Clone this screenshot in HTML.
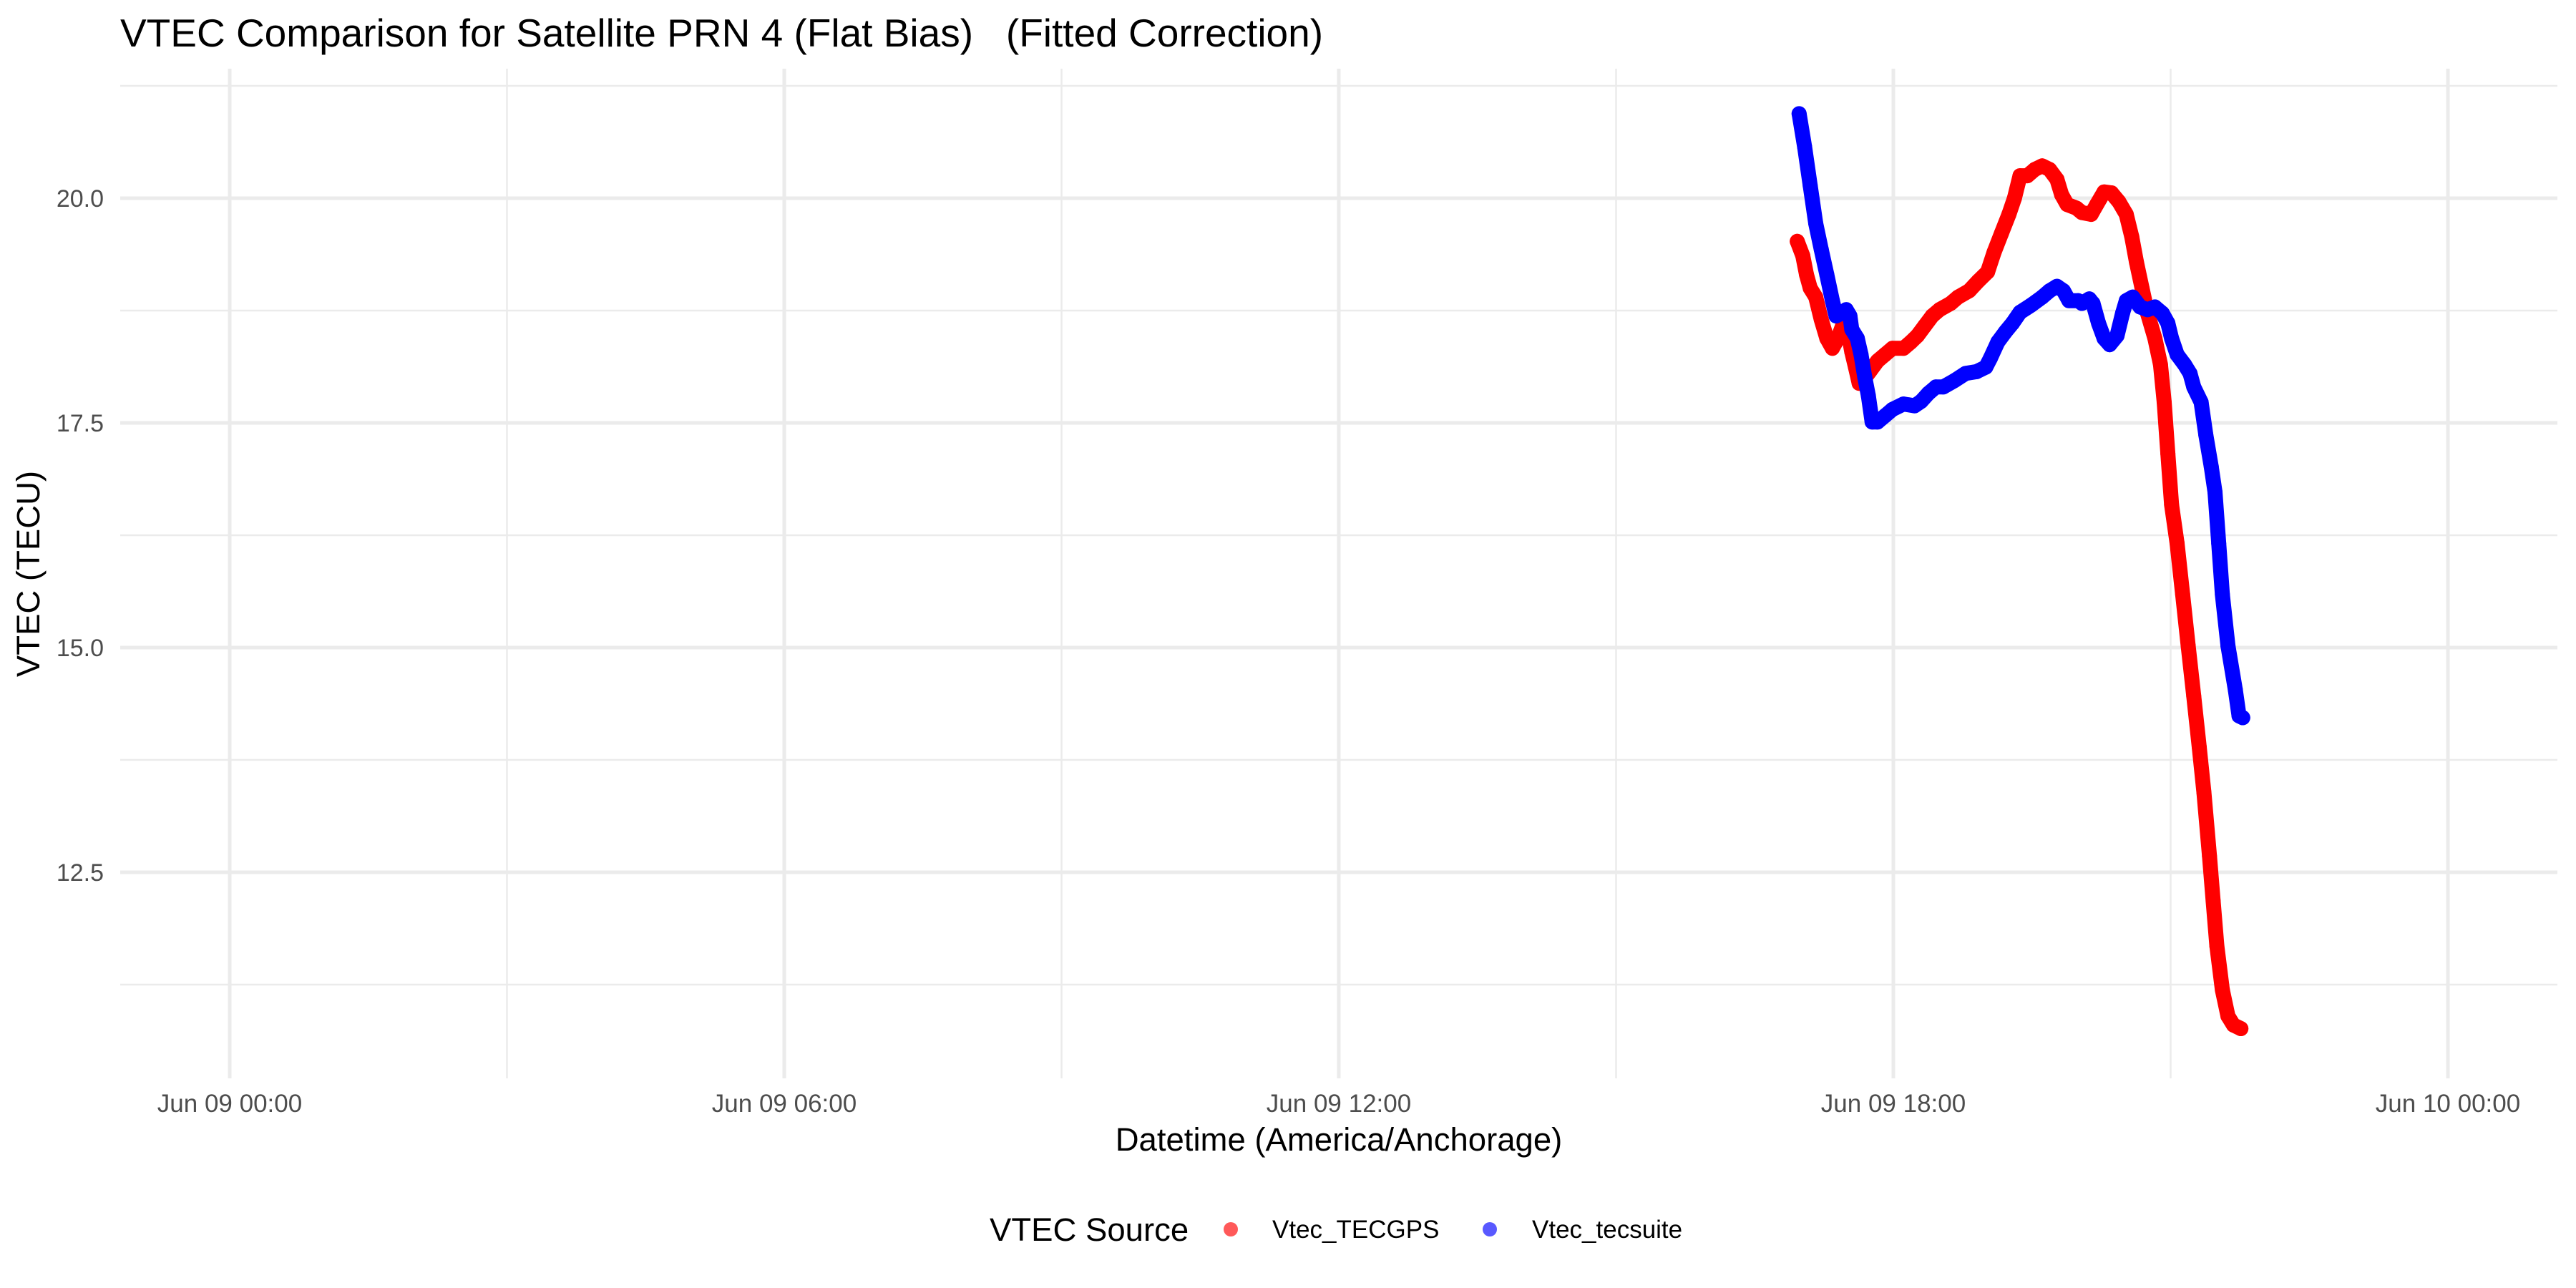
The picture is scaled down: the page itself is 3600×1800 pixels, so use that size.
<!DOCTYPE html>
<html><head><meta charset="utf-8"><style>
html,body{margin:0;padding:0;background:#fff}
svg{display:block}
text{font-family:"Liberation Sans",Arial,sans-serif}
</style></head><body>
<svg id="chart" width="3600" height="1800" viewBox="0 0 3600 1800" xmlns="http://www.w3.org/2000/svg">
<rect x="0" y="0" width="3600" height="1800" fill="#fff"/>
<text x="168" y="65" font-size="55" fill="#000" style="white-space:pre">VTEC Comparison for Satellite PRN 4 (Flat Bias) &#160; (Fitted Correction)</text>
<g id="grid"></g>
<g id="series"></g>
<g id="axes"></g>
<text x="1871" y="1608" font-size="45.5" text-anchor="middle" fill="#000">Datetime (America/Anchorage)</text>
<text transform="translate(55,802) rotate(-90)" font-size="45.5" text-anchor="middle" fill="#000">VTEC (TECU)</text>
<g>
<text x="1383" y="1734" font-size="45.5" fill="#000">VTEC Source</text>
<g>
<circle cx="1720" cy="1718" r="10" fill="#ff0000" fill-opacity="0.65"/>
<text x="1778" y="1730" font-size="35" fill="#000">Vtec_TECGPS</text>
</g>
<g>
<circle cx="2082" cy="1718" r="10" fill="#0000ff" fill-opacity="0.65"/>
<text x="2141" y="1730" font-size="35" fill="#000">Vtec_tecsuite</text>
</g>
</g>
</svg>
<script>
// Data (hours since Jun 09 00:00, VTEC in TECU)
const xMajorTicks = [0, 6, 12, 18, 24];
const xMajorLabels = ["Jun 09 00:00", "Jun 09 06:00", "Jun 09 12:00", "Jun 09 18:00", "Jun 10 00:00"];
const xMinorTicks = [3, 9, 15, 21];
const yMajorTicks = [12.5, 15, 17.5, 20];
const yMajorLabels = ["12.5", "15.0", "17.5", "20.0"];
const yMinorTicks = [11.25, 13.75, 16.25, 18.75, 21.25];

const tecsuiteHours = [16.98,17.04,17.10,17.16,17.22,17.28,17.34,17.38,17.44,17.49,17.53,17.55,17.61,17.65,17.69,17.73,17.77,17.83,17.91,17.99,18.11,18.23,18.30,18.38,18.46,18.54,18.66,18.78,18.90,19.00,19.05,19.13,19.21,19.29,19.37,19.49,19.61,19.69,19.77,19.84,19.90,20.00,20.04,20.12,20.16,20.22,20.28,20.34,20.42,20.48,20.52,20.59,20.67,20.75,20.83,20.91,20.97,21.01,21.07,21.15,21.21,21.25,21.33,21.38,21.44,21.48,21.52,21.56,21.62,21.70,21.74,21.78];
const tecsuiteValues = [20.94,20.57,20.14,19.72,19.43,19.15,18.86,18.69,18.72,18.76,18.69,18.54,18.44,18.26,18.01,17.80,17.51,17.51,17.58,17.65,17.71,17.69,17.74,17.83,17.90,17.90,17.97,18.05,18.07,18.12,18.22,18.40,18.51,18.61,18.73,18.81,18.90,18.97,19.02,18.97,18.86,18.86,18.83,18.88,18.83,18.61,18.44,18.37,18.47,18.72,18.86,18.90,18.79,18.76,18.79,18.72,18.61,18.44,18.26,18.15,18.05,17.90,17.73,17.37,17.01,16.73,16.16,15.59,15.02,14.53,14.24,14.22];

const tecgpsHours = [16.96,17.02,17.06,17.10,17.16,17.22,17.28,17.34,17.40,17.45,17.51,17.55,17.59,17.63,17.67,17.75,17.83,17.91,17.99,18.11,18.19,18.26,18.34,18.42,18.50,18.62,18.70,18.82,18.92,19.02,19.09,19.17,19.25,19.31,19.37,19.45,19.53,19.61,19.69,19.77,19.82,19.88,19.98,20.04,20.14,20.20,20.28,20.36,20.44,20.52,20.58,20.63,20.69,20.75,20.83,20.89,20.93,20.97,21.01,21.07,21.13,21.19,21.25,21.31,21.36,21.42,21.46,21.50,21.56,21.62,21.68,21.76];
const tecgpsValues = [19.52,19.36,19.15,19.00,18.90,18.65,18.44,18.33,18.44,18.58,18.51,18.29,18.12,17.94,17.97,18.08,18.19,18.26,18.33,18.33,18.40,18.47,18.58,18.69,18.76,18.83,18.90,18.97,19.08,19.18,19.40,19.61,19.82,20.00,20.25,20.25,20.32,20.36,20.32,20.21,20.04,19.93,19.89,19.84,19.82,19.93,20.07,20.06,19.96,19.82,19.57,19.29,19.00,18.72,18.44,18.15,17.73,17.16,16.59,16.16,15.59,15.02,14.46,13.89,13.39,12.68,12.18,11.68,11.19,10.90,10.80,10.76];

const NS = "http://www.w3.org/2000/svg";
const panel = {left: 168, right: 3574, top: 96, bottom: 1507};
function xScale(h) { return 321 + h * (3100 / 24); }
function yScale(v) { return 277 + (20 - v) * (942 / 7.5); }
function mk(tag, attrs, parent) {
  const el = document.createElementNS(NS, tag);
  for (const k in attrs) el.setAttribute(k, attrs[k]);
  parent.appendChild(el);
  return el;
}
const grid = document.getElementById('grid');
const axes = document.getElementById('axes');
const series = document.getElementById('series');

yMinorTicks.forEach(v => {
  const l = mk('line', {x1: panel.left, x2: panel.right, y1: yScale(v), y2: yScale(v), stroke: '#ebebeb', 'stroke-width': 2.5}, grid);
  
  
});
xMinorTicks.forEach(h => {
  const l = mk('line', {x1: xScale(h), x2: xScale(h), y1: panel.top, y2: panel.bottom, stroke: '#ebebeb', 'stroke-width': 2.5}, grid);
  
  
});
yMajorTicks.forEach((v, i) => {
  const l = mk('line', {x1: panel.left, x2: panel.right, y1: yScale(v), y2: yScale(v), stroke: '#ebebeb', 'stroke-width': 5}, grid);
  
  
  const t = mk('text', {x: 145, y: yScale(v) + 12, 'font-size': 34, fill: '#4d4d4d', 'text-anchor': 'end'}, axes);
  t.textContent = yMajorLabels[i];
  
  
});
xMajorTicks.forEach((h, i) => {
  const l = mk('line', {x1: xScale(h), x2: xScale(h), y1: panel.top, y2: panel.bottom, stroke: '#ebebeb', 'stroke-width': 5}, grid);
  
  
  const t = mk('text', {x: xScale(h), y: 1554, 'font-size': 35, fill: '#4d4d4d', 'text-anchor': 'middle'}, axes);
  t.textContent = xMajorLabels[i];
  
  
});

function drawSeries(hours, vals, color, name) {
  const g = mk('g', {}, series);
  
  
  let d = '';
  hours.forEach((h, i) => { d += (i ? 'L' : 'M') + xScale(h).toFixed(1) + ' ' + yScale(vals[i]).toFixed(1); });
  const p = mk('path', {d: d, fill: 'none', stroke: color, 'stroke-width': 21, 'stroke-linecap': 'round', 'stroke-linejoin': 'round'}, g);
  
  
  hours.forEach((h, i) => {
    const c = mk('circle', {cx: xScale(h), cy: yScale(vals[i]), r: 10.5, fill: color}, g);
    
    
  });
}
drawSeries(tecgpsHours, tecgpsValues, '#ff0000', 'series-tecgps');
drawSeries(tecsuiteHours, tecsuiteValues, '#0000ff', 'series-tecsuite');
</script>
</body></html>
